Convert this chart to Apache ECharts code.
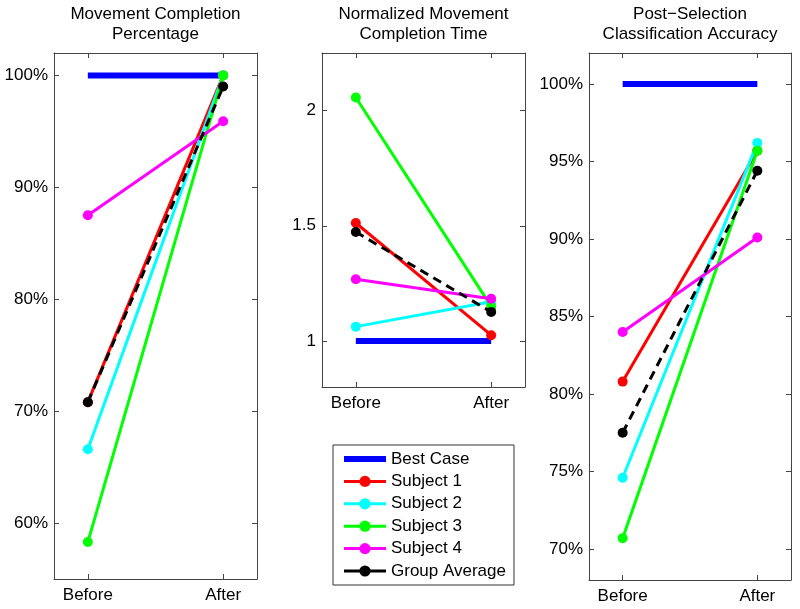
<!DOCTYPE html>
<html>
<head>
<meta charset="utf-8">
<script src="https://cdn.jsdelivr.net/npm/echarts@6/dist/echarts.min.js"></script>
<style>html,body{margin:0;padding:0;background:#fff}#c{width:800px;height:609px}</style>
</head>
<body>
<div id="c"></div>
<script>
// ---- data ----
var categories = ['Before', 'After'];
var seriesNames = ['Best Case', 'Subject 1', 'Subject 2', 'Subject 3', 'Subject 4', 'Group Average'];

var pctBest = [100, 100];
var pctS1   = [70.8, 100];
var pctS2   = [66.6, 100];
var pctS3   = [58.3, 100];
var pctS4   = [87.5, 95.9];
var pctAvg  = [70.8, 99.0];

var timeBest = [1, 1];
var timeS1   = [1.512, 1.025];
var timeS2   = [1.062, 1.17];
var timeS3   = [2.057, 1.15];
var timeS4   = [1.268, 1.183];
var timeAvg  = [1.473, 1.126];

var accBest = [100, 100];
var accS1   = [80.8, 95.7];
var accS2   = [74.6, 96.2];
var accS3   = [70.7, 95.7];
var accS4   = [84.0, 90.1];
var accAvg  = [77.5, 94.4];

var pctTicks  = [60, 70, 80, 90, 100];
var timeTicks = [1, 1.5, 2];
var accTicks  = [70, 75, 80, 85, 90, 95, 100];

var titles = ['Movement Completion\nPercentage', 'Normalized Movement\nCompletion Time', 'Post\u2212Selection\nClassification Accuracy'];

// ---- styling ----
var FONT = 'Liberation Sans';
var FS = 17;
var AXC = '#444';
var colors = ['#0000ff', '#ff0000', '#00ffff', '#00ff00', '#ff00ff', '#000000'];
var xPos = [1, 2];

var grids = [
  {left: 54, top: 53, width: 203, height: 526},
  {left: 322, top: 53, width: 203, height: 334},
  {left: 589, top: 53, width: 202, height: 527}
];
var yRanges = [[55, 102], [0.8, 2.25], [68, 102]];
var yTicks = [pctTicks, timeTicks, accTicks];
var yFmt = [function (v) { return v + '%'; }, function (v) { return String(v); }, function (v) { return v + '%'; }];
var panelData = [
  [pctBest, pctS1, pctS2, pctS3, pctS4, pctAvg],
  [timeBest, timeS1, timeS2, timeS3, timeS4, timeAvg],
  [accBest, accS1, accS2, accS3, accS4, accAvg]
];

var xAxes = [], yAxes = [], series = [], titleOpts = [];
grids.forEach(function (g, i) {
  titleOpts.push({
    text: titles[i], left: g.left + g.width / 2, top: 4, textAlign: 'center', padding: 0,
    textStyle: {fontFamily: FONT, fontSize: FS, fontWeight: 'normal', color: '#000', lineHeight: 20}
  });
  xAxes.push({
    type: 'value', gridIndex: i, min: 0.75, max: 2.25, position: 'bottom',
    axisLine: {show: true, lineStyle: {color: AXC, width: 1}},
    axisTick: {show: true, inside: true, length: 5, customValues: xPos, lineStyle: {color: AXC}},
    axisLabel: {show: true, customValues: xPos, margin: 8, color: '#000', fontFamily: FONT, fontSize: FS,
      formatter: function (v) { return categories[Math.round(v) - 1] || ''; }},
    splitLine: {show: false}
  });
  xAxes.push({
    type: 'value', gridIndex: i, min: 0.75, max: 2.25, position: 'top',
    axisLine: {show: true, lineStyle: {color: AXC, width: 1}},
    axisTick: {show: true, inside: true, length: 5, customValues: xPos, lineStyle: {color: AXC}},
    axisLabel: {show: false}, splitLine: {show: false}
  });
  yAxes.push({
    type: 'value', gridIndex: i, min: yRanges[i][0], max: yRanges[i][1], position: 'left',
    axisLine: {show: true, lineStyle: {color: AXC, width: 1}},
    axisTick: {show: true, inside: true, length: 5, customValues: yTicks[i], lineStyle: {color: AXC}},
    axisLabel: {show: true, customValues: yTicks[i], margin: 6, color: '#000', fontFamily: FONT, fontSize: FS, formatter: yFmt[i]},
    splitLine: {show: false}
  });
  yAxes.push({
    type: 'value', gridIndex: i, min: yRanges[i][0], max: yRanges[i][1], position: 'right',
    axisLine: {show: true, lineStyle: {color: AXC, width: 1}},
    axisTick: {show: true, inside: true, length: 5, customValues: yTicks[i], lineStyle: {color: AXC}},
    axisLabel: {show: false}, splitLine: {show: false}
  });

  panelData[i].forEach(function (vals, k) {
    var pts = vals.map(function (v, j) { return [xPos[j], v]; });
    var s = {
      name: seriesNames[k], type: 'line', xAxisIndex: i * 2, yAxisIndex: i * 2,
      data: pts, color: colors[k], z: 2 + k,
      lineStyle: {color: colors[k], width: 3},
      itemStyle: {color: colors[k]},
      symbol: 'circle', symbolSize: 10, showSymbol: true,
      animation: false, clip: false, emphasis: {disabled: true}
    };
    if (k === 0) {
      s.symbol = 'none';
      s.lineStyle = {color: colors[k], width: 6};
    }
    if (k === 5) {
      s.lineStyle = {color: colors[k], width: 3, type: [9, 6]};
    }
    series.push(s);
  });
});

var legendData = seriesNames.map(function (n, k) {
  var d = {name: n, lineStyle: {width: 3, type: 'solid', color: colors[k]}};
  if (k === 0) {
    d.lineStyle.width = 6;
    d.itemStyle = {opacity: 0};
  }
  return d;
});

var chart = echarts.init(document.getElementById('c'), null, {renderer: 'canvas'});
chart.setOption({
  backgroundColor: '#fff',
  animation: false,
  title: titleOpts,
  grid: grids,
  xAxis: xAxes,
  yAxis: yAxes,
  legend: {
    orient: 'vertical', left: 333, top: 445,
    padding: [4.5, 8, 4.5, 8],
    backgroundColor: '#fff', borderColor: '#333', borderWidth: 1,
    itemWidth: 42, itemHeight: 14, itemGap: 3.4,
    textStyle: {fontFamily: FONT, fontSize: FS, color: '#000', lineHeight: 19},
    data: legendData,
    selectedMode: false
  },
  series: series
});
</script>
</body>
</html>
